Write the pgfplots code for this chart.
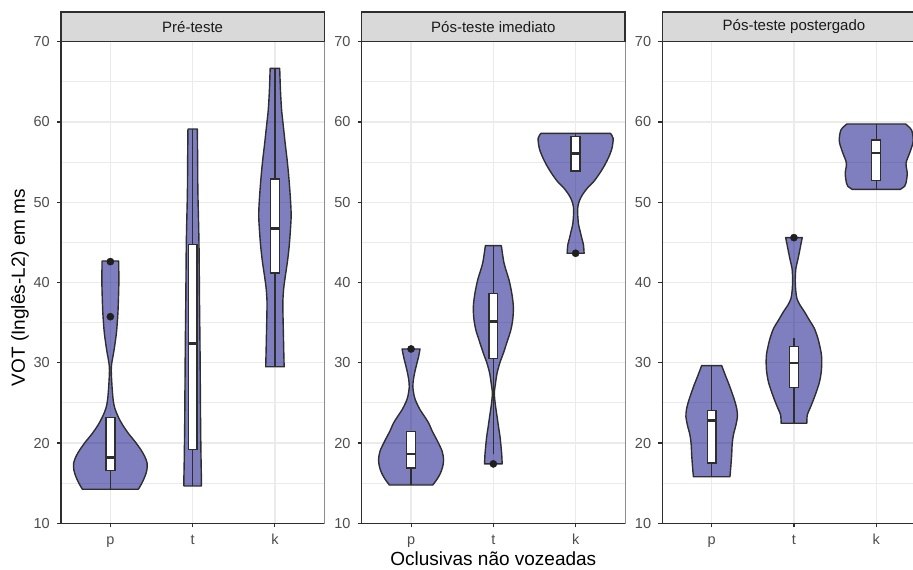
\documentclass[border=0pt]{standalone}
\usepackage{fontspec}
\setmainfont{Liberation Sans}
\usepackage{pgfplots}
\pgfplotsset{compat=1.18}
\usepackage{pgfplotstable}
\usepgfplotslibrary{fillbetween}

\definecolor{gridc}{HTML}{EBEBEB}
\definecolor{stripc}{HTML}{D9D9D9}
\definecolor{linec}{HTML}{2E2E2E}
\definecolor{tickc}{HTML}{4D4D4D}
\definecolor{stxt}{HTML}{1A1A1A}
\definecolor{rborder}{HTML}{8C8C8C}
\definecolor{vfill}{HTML}{000080}

% violin outlines: y (ms) and half width w (in category units)
\pgfplotstableread{
y w
14.24 0.340
15.00 0.383
15.81 0.419
16.60 0.443
17.47 0.447
18.30 0.419
19.13 0.373
20.20 0.298
21.20 0.219
22.30 0.146
23.28 0.095
24.30 0.055
25.36 0.034
27.40 0.018
29.50 0.012
31.60 0.045
33.67 0.073
35.74 0.089
37.00 0.095
39.90 0.103
42.68 0.101
}\preP
\pgfplotstableread{
y w
14.65 0.106
15.80 0.106
18.00 0.102
22.00 0.097
26.00 0.094
32.50 0.089
38.00 0.083
44.90 0.077
51.10 0.064
55.00 0.061
59.12 0.057
}\preT
\pgfplotstableread{
y w
29.50 0.112
31.60 0.107
34.50 0.101
36.50 0.097
37.80 0.097
39.30 0.107
40.70 0.125
42.60 0.152
44.50 0.173
46.50 0.188
48.40 0.197
50.50 0.188
53.20 0.168
55.30 0.148
57.30 0.125
59.40 0.103
61.50 0.081
64.00 0.067
66.68 0.058
}\preK
\pgfplotstableread{
y w
14.77 0.264
15.50 0.316
16.20 0.355
17.00 0.383
17.90 0.395
19.00 0.377
20.40 0.313
21.40 0.261
22.50 0.213
23.30 0.164
24.10 0.112
25.00 0.067
25.80 0.039
27.00 0.022
28.00 0.030
29.10 0.051
30.00 0.073
30.76 0.091
31.72 0.109
}\imP
\pgfplotstableread{
y w
17.40 0.107
18.70 0.101
20.80 0.081
22.00 0.063
23.30 0.045
24.80 0.024
26.20 0.012
27.50 0.027
28.70 0.045
30.00 0.079
31.20 0.122
32.70 0.170
34.10 0.213
35.50 0.237
37.00 0.243
38.60 0.225
40.30 0.191
41.40 0.158
42.40 0.130
43.50 0.112
44.59 0.097
}\imT
\pgfplotstableread{
y w
43.64 0.103
44.70 0.095
45.50 0.075
46.30 0.057
47.20 0.036
48.00 0.028
49.20 0.024
50.10 0.043
50.90 0.081
51.80 0.146
52.60 0.222
53.60 0.292
54.60 0.352
55.60 0.401
56.70 0.441
57.96 0.456
58.58 0.422
}\imK
\pgfplotstableread{
y w
15.80 0.222
16.85 0.231
18.50 0.243
19.80 0.249
21.00 0.264
22.20 0.294
23.30 0.313
24.20 0.306
25.15 0.283
26.20 0.249
27.23 0.213
28.50 0.164
29.64 0.122
}\posP
\pgfplotstableread{
y w
22.46 0.156
23.50 0.162
24.30 0.194
25.15 0.228
26.40 0.273
27.60 0.310
28.90 0.332
30.10 0.338
31.00 0.334
31.80 0.320
33.00 0.292
34.30 0.247
35.30 0.188
36.40 0.125
37.20 0.073
38.00 0.036
39.00 0.022
40.10 0.016
41.00 0.018
41.80 0.024
42.80 0.046
43.84 0.067
44.80 0.085
45.59 0.101
}\posT
\pgfplotstableread{
y w
51.60 0.292
52.00 0.346
52.40 0.362
53.60 0.377
54.85 0.362
56.10 0.405
57.00 0.435
57.75 0.450
59.00 0.429
59.75 0.356
}\posK

% one violin: #1 = category position, #2 = outline table
\newcommand{\violin}[2]{%
  \addplot[name path=R#1, draw=none, smooth, forget plot] table[x expr=#1+\thisrow{w}, y=y]{#2};
  \addplot[name path=L#1, draw=none, smooth, forget plot] table[x expr=#1-\thisrow{w}, y=y]{#2};
  \addplot[fill=vfill, fill opacity=0.5, draw=linec, line width=1.4pt, line join=round]
    fill between[of=R#1 and L#1, reverse=true];
}
% one box: position, lower whisker, q1, median, q3, upper whisker
\newcommand{\innerbox}[6]{%
  \pgfmathsetmacro{\bxl}{#1-0.054}%
  \pgfmathsetmacro{\bxr}{#1+0.054}%
  \addplot[linec, line width=1.4pt, forget plot] coordinates {(#1,#2) (#1,#3)};
  \addplot[linec, line width=1.4pt, forget plot] coordinates {(#1,#5) (#1,#6)};
  \addplot[fill=white, draw=linec, line width=1.4pt, forget plot]
    coordinates {(\bxl,#3) (\bxr,#3) (\bxr,#5) (\bxl,#5)} -- cycle;
  \addplot[linec, line width=2.6pt, forget plot] coordinates {(\bxl,#4) (\bxr,#4)};
}

\pgfplotsset{
  facet/.style={
    scale only axis, width=263.3pt, height=481.6pt, anchor=south west,
    xmin=0.4, xmax=3.6, ymin=10, ymax=70,
    xtick={1,2,3}, xticklabels={p,t,k},
    ytick={10,20,...,70}, minor ytick={15,25,...,65},
    grid=both,
    major grid style={gridc, line width=1.4pt},
    minor grid style={gridc, line width=1pt},
    axis line style={rborder, line width=1pt},
    tick align=outside, major tick length=4pt, minor tick length=0pt,
    tick style={linec, line width=1.1pt},
    xtick pos=bottom, ytick pos=left,
    ticklabel style={font=\fontsize{14.5}{16}\selectfont, text=tickc},
    /pgf/number format/assume math mode=true,
    yticklabel style={inner sep=0pt, xshift=-7pt},
    xticklabel style={inner sep=0pt, anchor=base, yshift=-17pt},
    clip=true,
  },
}

\begin{document}
\begin{tikzpicture}
\begin{axis}[facet, name=ax1, at={(61pt,46.7pt)}]
  \violin{1}{\preP}
  \violin{2}{\preT}
  \violin{3}{\preK}
  \innerbox{1}{14.24}{16.6}{18.23}{23.2}{23.2}
  \innerbox{2}{14.65}{19.22}{32.43}{44.76}{59.12}
  \innerbox{3}{29.5}{41.2}{46.75}{52.9}{66.68}
  \addplot[only marks, mark=*, mark size=3.6pt, color=black!88] coordinates {(1,42.6) (1,35.74)};
\end{axis}
\begin{axis}[facet, name=ax2, at={(361.7pt,46.7pt)}]
  \violin{1}{\imP}
  \violin{2}{\imT}
  \violin{3}{\imK}
  \innerbox{1}{14.8}{16.9}{18.65}{21.4}{21.4}
  \innerbox{2}{18.6}{30.56}{35.12}{38.66}{44.59}
  \innerbox{3}{53.9}{53.9}{56.1}{58.17}{58.58}
  \addplot[only marks, mark=*, mark size=3.6pt, color=black!88] coordinates {(1,31.72) (2,17.4) (3,43.64)};
\end{axis}
\begin{axis}[facet, name=ax3, at={(662.3pt,46.7pt)}]
  \violin{1}{\posP}
  \violin{2}{\posT}
  \violin{3}{\posK}
  \innerbox{1}{15.8}{17.5}{22.78}{24.02}{29.64}
  \innerbox{2}{22.46}{26.9}{29.97}{32.0}{33.05}
  \innerbox{3}{51.55}{52.73}{56.15}{57.75}{59.75}
  \addplot[only marks, mark=*, mark size=3.6pt, color=black!88] coordinates {(2,45.59)};
\end{axis}

% axis lines on the left and bottom, facet strips on top
\foreach \ax/\lab in {ax1/Pré-teste, ax2/Pós-teste imediato, ax3/Pós-teste postergado}{
  \draw[linec, line width=1.3pt] (\ax.north west) -- (\ax.south west) -- (\ax.south east);
  \draw[fill=stripc, draw=linec, line width=1.1pt] (\ax.north west) rectangle ([yshift=29.7pt]\ax.north east);
  \node[font=\fontsize{15}{18}\selectfont, text=stxt] at ([yshift=14.85pt]\ax.north) {\lab};
}

\node[font=\fontsize{19}{22}\selectfont, anchor=base] at (493.3pt,4pt) {Oclusivas não vozeadas};
\node[font=\fontsize{19}{22}\selectfont, rotate=90, anchor=base] at (25pt,282.5pt) {VOT (Inglês-L2) em ms};

\pgfresetboundingbox
\path[use as bounding box] (0pt,0pt) rectangle (913pt,570pt);
\end{tikzpicture}
\end{document}
